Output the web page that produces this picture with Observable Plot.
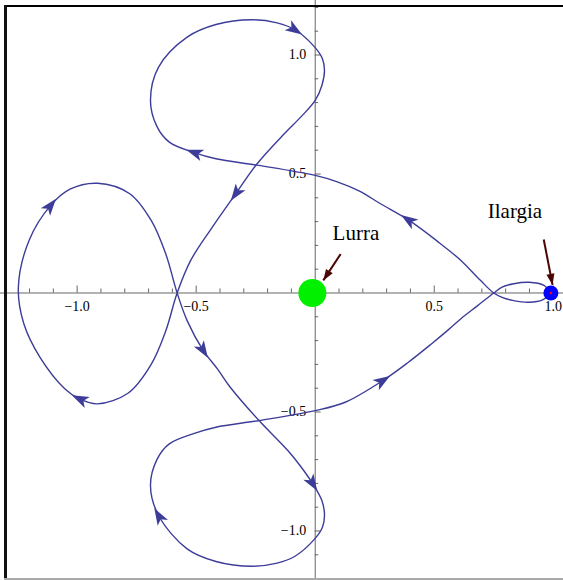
<!DOCTYPE html>
<html>
<head>
<meta charset="utf-8">
<script src="https://cdn.jsdelivr.net/npm/d3@7"></script>
<script src="https://cdn.jsdelivr.net/npm/@observablehq/plot@0.6"></script>
<style>
  html, body { margin: 0; padding: 0; background: #fff; }
  #wrap { position: relative; width: 563px; height: 580px; overflow: hidden; }
  #wrap svg { position: absolute; left: 0; top: 0; }
  .edge { position: absolute; }
  #edgeTop { left: 4px; top: 5px; width: 559px; height: 2px; background: #000; }
  #edgeLeft { left: 4px; top: 5px; width: 3px; height: 575px; background: #111; }
  #edgeBottom { left: 4px; top: 578px; width: 559px; height: 2px; background: #aaa; }
</style>
</head>
<body>
<div id="wrap">
  <div class="edge" id="edgeTop"></div>
  <div class="edge" id="edgeLeft"></div>
  <div class="edge" id="edgeBottom"></div>
</div>
<script>
// Orbit in the rotating Earth–Moon frame, traced from the Moon around all three lobes.
// Each row below is one stretch of the path; the arrow marks are listed in arrowAt.
const orbitX = [
  // Moon -> lower small arc -> right crossing
  0.990, 0.955, 0.898, 0.834, 0.785, 0.750,
  // up-left branch to the upper lobe
  0.695, 0.612, 0.520, 0.390, 0.274, 0.186, 0.090, 0.000, -0.236, -0.417, -0.508,
  // upper lobe
  -0.613, -0.665, -0.692, -0.658, -0.538, -0.417, -0.266, -0.160, -0.085,
  -0.002, 0.030, 0.039, 0.028, 0.000, -0.060, -0.130, -0.244, -0.334, -0.432, -0.523, -0.580,
  // left lobe
  -0.628, -0.689, -0.785, -0.915, -0.990, -1.051, -1.156, -1.224, -1.247,
  -1.202, -1.111, -1.030, -0.915, -0.779, -0.689, -0.628, -0.580,
  // down-right branch and lower lobe
  -0.538, -0.470, -0.410, -0.357, -0.236, -0.115, -0.060, -0.010,
  0.028, 0.039, 0.030, -0.002, -0.085, -0.160, -0.266, -0.417, -0.538,
  -0.658, -0.692, -0.665, -0.613, -0.508, -0.417, -0.236,
  // back to the right crossing
  0.000, 0.126, 0.284, 0.390, 0.488, 0.560, 0.611, 0.680, 0.750,
  // upper small arc -> Moon
  0.785, 0.834, 0.898, 0.961, 0.990
];
const orbitY = [
  0.000, -0.029, -0.039, -0.032, -0.018, 0.000,
  0.052, 0.137, 0.212, 0.308, 0.375, 0.428, 0.468, 0.494, 0.536, 0.564, 0.590,
  0.634, 0.700, 0.809, 0.949, 1.075, 1.128, 1.148, 1.135, 1.106,
  1.033, 0.985, 0.935, 0.872, 0.809, 0.740, 0.669, 0.543, 0.417, 0.277, 0.137, 0.000,
  -0.160, -0.300, -0.420, -0.466, -0.445, -0.403, -0.270, -0.129, 0.024,
  0.221, 0.368, 0.436, 0.461, 0.417, 0.305, 0.165, 0.000,
  -0.116, -0.242, -0.320, -0.396, -0.536, -0.662, -0.730, -0.802,
  -0.872, -0.935, -0.985, -1.033, -1.106, -1.135, -1.148, -1.128, -1.075,
  -0.935, -0.809, -0.700, -0.634, -0.590, -0.564, -0.536,
  -0.494, -0.459, -0.368, -0.292, -0.214, -0.154, -0.109, -0.055, 0.000,
  0.025, 0.039, 0.045, 0.032, 0.000
];
// Points of the orbit that carry a direction arrowhead
const arrowAt = [9, 16, 25, 34, 42, 48, 56, 62, 72, 81];

// Bodies
const bodyName = ["Lurra", "Ilargia"];
const bodyX = [-0.012, 0.990];
const bodyY = [0, 0];

// Axis ticks
const majorTicks = [-1.0, -0.5, 0.5, 1.0];
const majorLabels = ["\u22121.0", "\u22120.5", "0.5", "1.0"];
const minorX = [-1.3, -1.2, -1.1, -0.9, -0.8, -0.7, -0.6, -0.4, -0.3, -0.2, -0.1, 0.1, 0.2, 0.3, 0.4, 0.6, 0.7, 0.8, 0.9];
const minorY = [-1.2, -1.1, -0.9, -0.8, -0.7, -0.6, -0.4, -0.3, -0.2, -0.1, 0.1, 0.2, 0.3, 0.4, 0.6, 0.7, 0.8, 0.9, 1.1, 1.2];

const W = 563, H = 580;
const xDomain = [-1.322, 1.043];
const yDomain = [-1.208, 1.229];
const px = (yDomain[1] - yDomain[0]) / H; // data units per pixel (equal on both axes)

const orbit = orbitX.map((x, i) => ({x, y: orbitY[i]}));
const arrows = arrowAt.map(i => {
  const a = orbit[i - 1], b = orbit[i + 1];
  return {x: orbit[i].x, y: orbit[i].y, angle: Math.atan2(b.x - a.x, b.y - a.y) * 180 / Math.PI};
});

// Notched arrowhead pointing up, centred on its point
const barb = {
  draw(ctx, size) {
    const r = Math.sqrt(size / Math.PI);
    ctx.moveTo(0, -r);
    ctx.lineTo(0.7 * r, r);
    ctx.lineTo(0, 0.5 * r);
    ctx.lineTo(-0.7 * r, r);
    ctx.closePath();
  }
};
// Plain arrowhead with its tip on the point
const tipHead = {
  draw(ctx, size) {
    const r = Math.sqrt(size / Math.PI);
    ctx.moveTo(0, 0);
    ctx.lineTo(0.62 * r, 1.7 * r);
    ctx.lineTo(-0.62 * r, 1.7 * r);
    ctx.closePath();
  }
};

// Pointer arrows from each label to its body
const pointers = [
  {x1: 0.107, y1: 0.164, x2: 0.034, y2: 0.053},
  {x1: 0.960, y1: 0.225, x2: 0.997, y2: 0.034}
].map(d => ({...d, angle: Math.atan2(d.x2 - d.x1, d.y2 - d.y1) * 180 / Math.PI}));
const labels = [
  {text: bodyName[0], x: 0.171, y: 0.25},
  {text: bodyName[1], x: 0.839, y: 0.345}
];

const serif = "Liberation Serif, Times New Roman, serif";
const axisGray = "#666";
const orbitColor = "#3d3d99";
const pointerColor = "#4a0505";

const chart = Plot.plot({
  width: W,
  height: H,
  margin: 0,
  x: {domain: xDomain, axis: null},
  y: {domain: yDomain, axis: null},
  style: {background: "transparent", overflow: "visible"},
  marks: [
    // axes through the origin
    Plot.ruleY([0], {stroke: axisGray, strokeWidth: 1}),
    Plot.ruleX([0], {stroke: axisGray, strokeWidth: 1}),
    // x ticks point up, y ticks point right
    Plot.ruleX(majorTicks, {x: d => d, y1: 0, y2: 7 * px, stroke: axisGray}),
    Plot.ruleX(minorX, {x: d => d, y1: 0, y2: 4 * px, stroke: axisGray}),
    Plot.ruleY(majorTicks, {y: d => d, x1: 0, x2: 6 * px, stroke: axisGray}),
    Plot.ruleY(minorY, {y: d => d, x1: 0, x2: 3.5 * px, stroke: axisGray}),
    Plot.text(majorTicks, {x: d => d, y: 0, text: (d, i) => majorLabels[i], lineAnchor: "top", dy: 8,
      fontFamily: serif, fontSize: 14, fill: "#000"}),
    Plot.text(majorTicks, {x: 0, y: d => d, text: (d, i) => majorLabels[i], textAnchor: "end", dx: -9,
      fontFamily: serif, fontSize: 14, fill: "#000"}),
    // the orbit and its direction arrows
    Plot.line(orbit, {x: "x", y: "y", curve: "catmull-rom", stroke: orbitColor, strokeWidth: 1.4}),
    Plot.dot(arrows, {x: "x", y: "y", rotate: "angle", symbol: barb, r: 8.5, fill: orbitColor, stroke: "none"}),
    // Earth and Moon
    Plot.dot([0], {x: () => bodyX[0], y: () => bodyY[0], r: 14, fill: "#00f000", stroke: "none"}),
    Plot.dot([0], {x: () => bodyX[1], y: () => bodyY[1], r: 7.5, fill: "#0000ff", stroke: "none"}),
    Plot.dot([0], {x: () => bodyX[1], y: () => bodyY[1], r: 1.3, fill: "#ff0000", stroke: "none"}),
    // labels with pointer arrows
    Plot.link(pointers, {x1: "x1", y1: "y1", x2: "x2", y2: "y2", stroke: pointerColor, strokeWidth: 2}),
    Plot.dot(pointers, {x: "x2", y: "y2", rotate: "angle", symbol: tipHead, r: 6.5, fill: pointerColor, stroke: "none"}),
    Plot.text(labels, {x: "x", y: "y", text: "text", fontFamily: serif, fontSize: 21, fill: "#000"})
  ]
});

document.getElementById("wrap").prepend(chart);
</script>
</body>
</html>
